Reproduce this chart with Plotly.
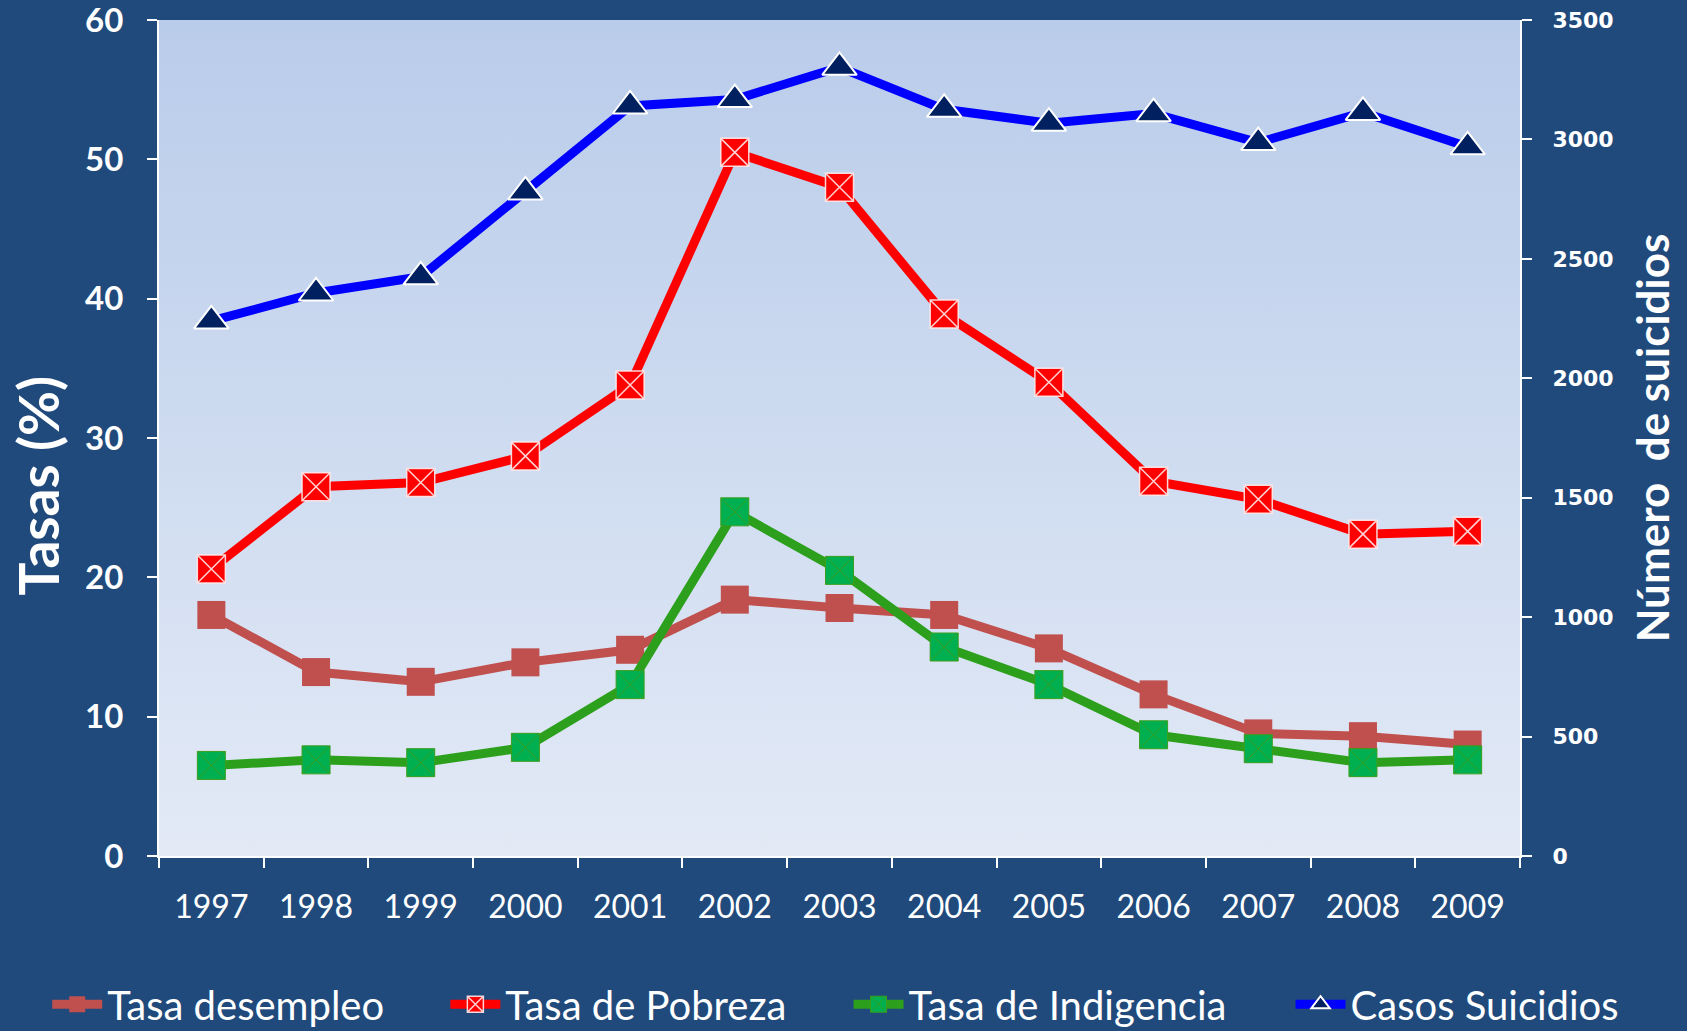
import urllib.parse
import plotly.graph_objects as go

# data
years = ['1997', '1998', '1999', '2000', '2001', '2002', '2003',
         '2004', '2005', '2006', '2007', '2008', '2009']

desempleo = [17.3, 13.2, 12.5, 13.9, 14.8, 18.4, 17.8, 17.3, 14.9, 11.6, 8.8, 8.6, 8.0]
pobreza = [20.6, 26.5, 26.8, 28.7, 33.8, 50.5, 48.0, 38.9, 34.0, 26.9, 25.6, 23.1, 23.3]
indigencia = [6.5, 6.9, 6.7, 7.8, 12.3, 24.7, 20.5, 15.0, 12.3, 8.7, 7.7, 6.7, 6.9]
suicidios = [2240, 2357, 2425, 2780, 3140, 3167, 3302, 3126, 3068, 3108, 2987, 3113, 2969]

bg = '#204A7C'
fnt = 'Lato, Open Sans, sans-serif'

fig = go.Figure()

fig.add_trace(go.Scatter(x=years, y=desempleo, name='Tasa desempleo',
                         mode='lines+markers', legend='legend',
                         line=dict(color='#C0504D', width=9),
                         marker=dict(symbol='square', size=28, color='#C0504D')))

fig.add_trace(go.Scatter(x=years, y=pobreza, name='Tasa de Pobreza',
                         mode='lines+markers', legend='legend2',
                         line=dict(color='#FF0000', width=9),
                         marker=dict(symbol='square-x', size=28, color='#FF0000',
                                     line=dict(color='rgba(255,235,235,0.9)', width=1.5))))

fig.add_trace(go.Scatter(x=years, y=indigencia, name='Tasa de Indigencia',
                         mode='lines+markers', legend='legend3',
                         line=dict(color='#2CA01C', width=9),
                         marker=dict(symbol='square-x', size=28, color='#00B050',
                                     line=dict(color='#3C9E1E', width=1))))

fig.add_trace(go.Scatter(x=years, y=suicidios, name='Casos Suicidios',
                         mode='lines+markers', yaxis='y2', legend='legend4',
                         line=dict(color='#0000FF', width=9),
                         marker=dict(symbol='triangle-up', size=30, color='#002060',
                                     line=dict(color='white', width=2))))

# vertical gradient behind the plot area
svg = ('<svg xmlns="http://www.w3.org/2000/svg" width="10" height="100" preserveAspectRatio="none">'
       '<defs><linearGradient id="g" x1="0" y1="0" x2="0" y2="1">'
       '<stop offset="0" stop-color="rgb(185,204,234)"/>'
       '<stop offset="1" stop-color="rgb(227,234,246)"/>'
       '</linearGradient></defs><rect width="10" height="100" fill="url(#g)"/></svg>')
src = 'data:image/svg+xml;charset=utf-8,' + urllib.parse.quote(svg)


def leg(x):
    return dict(orientation='h', xref='container', yref='container',
                x=x, xanchor='left', y=0.026, yanchor='middle',
                itemwidth=50, font=dict(size=40, color='white', family=fnt),
                bgcolor='rgba(0,0,0,0)')


fig.update_layout(
    width=1687, height=1031,
    showlegend=True,
    paper_bgcolor=bg,
    plot_bgcolor='rgba(0,0,0,0)',
    margin=dict(l=159, r=167, t=20, b=175, autoexpand=False),
    font=dict(family=fnt, color='white'),
    images=[dict(source=src, xref='paper', yref='paper', x=0, y=1,
                 sizex=1, sizey=1, sizing='stretch', layer='below')],
    xaxis=dict(type='category', range=[-0.5, len(years) - 0.5],
               tickson='boundaries', showline=True,
               linecolor='white', linewidth=2, ticks='outside', ticklen=10,
               tickcolor='white', tickwidth=2, showgrid=False,
               tickfont=dict(size=32, color='white', family=fnt),
               ticklabelstandoff=22),
    yaxis=dict(range=[0, 60], dtick=10, showline=True, linecolor='white',
               linewidth=2, ticks='outside', ticklen=10, tickcolor='white',
               tickwidth=2, showgrid=False, zeroline=False,
               ticklabeloverflow='allow',
               tickfont=dict(size=33, color='white', family=fnt, weight='bold'),
               ticklabelstandoff=17),
    yaxis2=dict(range=[0, 3500], dtick=500, overlaying='y', side='right',
                showline=True, linecolor='white', linewidth=2, ticks='outside',
                ticklen=10, tickcolor='white', tickwidth=2, showgrid=False,
                zeroline=False, ticklabelstandoff=16, ticklabeloverflow='allow',
                tickfont=dict(size=22, color='white', family='DejaVu Sans', weight='bold'),
                title=dict(text='Número  de suicidios', standoff=26,
                           font=dict(size=44, color='white', family=fnt, weight='bold'))),
    annotations=[dict(text='Tasas (%)', textangle=-90, xref='paper', yref='paper',
                      x=-0.089, y=0.443, xanchor='center', yanchor='middle',
                      showarrow=False,
                      font=dict(size=55, color='white', family=fnt, weight='bold'))],
    legend=leg(0.028),
    legend2=leg(0.264),
    legend3=leg(0.503),
    legend4=leg(0.765),
)

fig.write_html('out.html', config={'displayModeBar': False},
               post_script="document.body.style.margin='0';")
